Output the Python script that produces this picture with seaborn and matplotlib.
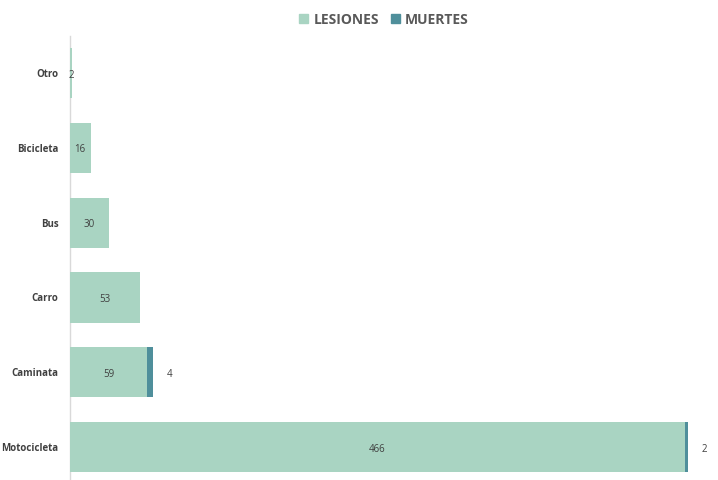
import matplotlib
matplotlib.use("Agg")
import matplotlib.pyplot as plt
from matplotlib.patches import Patch
import pandas as pd
import seaborn as sns

categorias = ["Otro", "Bicicleta", "Bus", "Carro", "Caminata", "Motocicleta"]
lesiones = [2, 16, 30, 53, 59, 466]
muertes = [0, 0, 0, 0, 4, 2]

col_les = "#a9d4c2"
col_mue = "#4f8f9b"

df = pd.DataFrame({"cat": categorias, "les": lesiones, "mue": muertes})
df["total"] = df["les"] + df["mue"]

sns.set_theme(style="white")
plt.rcParams["font.family"] = ["Open Sans", "DejaVu Sans"]

fig = plt.figure(figsize=(7.18, 4.80), dpi=100)
ax = fig.add_axes([0.0968, -0.0096, 0.883, 0.9356])

# total primero (muertes), luego lesiones encima
sns.barplot(data=df, y="cat", x="total", color=col_mue, width=0.67,
            saturation=1, orient="h", linewidth=0, ax=ax)
sns.barplot(data=df, y="cat", x="les", color=col_les, width=0.67,
            saturation=1, orient="h", linewidth=0, ax=ax)

ax.set_xlim(0, 480)
ax.set_ylim(5.5, -0.5)
ax.set_xlabel("")
ax.set_ylabel("")
ax.set_xticks([])
for s in ["top", "right", "bottom"]:
    ax.spines[s].set_visible(False)
ax.spines["left"].set_color("#d9d9d9")
ax.spines["left"].set_linewidth(1)
ax.spines["left"].set_zorder(0.5)
ax.tick_params(axis="y", length=0, pad=8)
for t in ax.get_yticklabels():
    t.set_fontsize(7)
    t.set_fontweight("bold")
    t.set_color("#404040")

# etiquetas
for i, (l, m) in enumerate(zip(lesiones, muertes)):
    ax.annotate(str(l), (l / 2, i), xytext=(0, -1.5), textcoords="offset points",
                ha="center", va="center", fontsize=7, color="#404040")
    if m > 0:
        ax.annotate(str(m), (l + m, i), xytext=(12, -1.5), textcoords="offset points",
                    ha="center", va="center", fontsize=7, color="#404040")

handles = [Patch(color=col_les, label="LESIONES"), Patch(color=col_mue, label="MUERTES")]
leg = fig.legend(handles=handles, loc="upper center", bbox_to_anchor=(0.535, 1.0), ncol=2,
                 frameon=False, handlelength=0.6, handleheight=0.6, handletextpad=0.4,
                 columnspacing=0.9, prop={"size": 10, "weight": "bold"})
for t in leg.get_texts():
    t.set_color("#595959")

fig.savefig("out.png", dpi=100)
